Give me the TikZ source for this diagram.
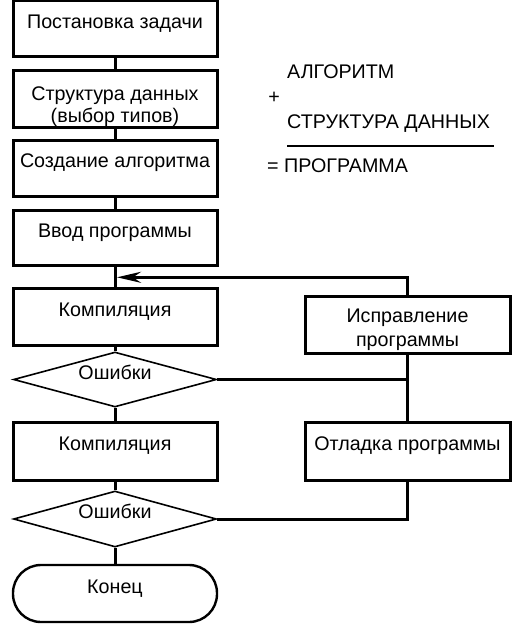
\documentclass[tikz,border=0pt]{standalone}
\usepackage{fontspec}
\setmainfont{Liberation Sans}
\usetikzlibrary{arrows.meta,shapes.geometric}
\tikzset{
        flownode/.style = {align=center, inner sep=0pt, text centered,
            font=\fontsize{19.7}{22.5}\selectfont},
        flow_box/.style = {flownode, rectangle, draw=black, line width=3pt,
            minimum width=204pt, minimum height=56pt},
        flow_one/.style = {flow_box, text height=14pt, text depth=15pt},
        flow_dec/.style = {flownode, diamond, aspect=4, draw=black, line width=1.6pt,
            minimum width=203pt, minimum height=55pt, text height=14pt, text depth=15pt},
        flow_end/.style = {flownode, rectangle, rounded corners=28pt, draw=black,
            line width=2.4pt, minimum width=204pt, minimum height=57pt,
            text height=14pt, text depth=15pt},
        flow_txt/.style = {font=\fontsize{19.7}{22.5}\selectfont, inner sep=0pt, anchor=base west},
        flow_line/.style = {line width=3pt}
    }
\begin{document}
\begin{tikzpicture}[x=1pt,y=-1pt,>={Stealth[length=24pt,width=11pt,inset=8pt]}]
    \useasboundingbox (0,0) rectangle (523,624);
    % left column
    \node [flow_one] (task) at (115,28.5) {Постановка задачи};
    \node [flow_box, minimum height=57pt] (data) at (115,98.5)
        {\rule{0pt}{30pt}Структура данных\\(выбор типов)};
    \node [flow_one] (algo) at (115,168) {Создание алгоритма};
    \node [flow_one, minimum height=55pt] (input) at (115,237.5) {Ввод программы};
    \node [flow_one, minimum height=57pt] (comp1) at (115,316.5) {Компиляция};
    \node [flow_dec] (err1) at (115,379.5) {Ошибки};
    \node [flow_one, minimum height=58pt] (comp2) at (115,451) {Компиляция};
    \node [flow_dec, minimum height=56pt] (err2) at (115,519) {Ошибки};
    \node [flow_end] (stop) at (115,593.5) {Конец};
    % right column
    \node [flow_box, minimum width=205pt, minimum height=57pt] (fix) at (407.5,324.5)
        {\rule{0pt}{24pt}Исправление\\[1pt]программы};
    \node [flow_one, minimum width=205pt, minimum height=58pt] (debug) at (407.5,451)
        {Отладка программы};
    % formula
    \node [flow_txt] (alg) at (287,78) {АЛГОРИТМ};
    \node [flow_txt, anchor=base] (plus) at (274,103) {+};
    \node [flow_txt] (str) at (287,128) {СТРУКТУРА ДАННЫХ};
    \node [flow_txt] (prog) at (267,172) {=\ ПРОГРАММА};
    \draw [line width=1.2pt] (287,146) -- (494,146);
    % connectors
    \coordinate (back) at (117,277.3);
    \coordinate (m1) at (err1.east -| fix.south);
    \coordinate (m2) at (err2.east -| debug.south);
    \draw [flow_line] (task) -- (data) -- (algo) -- (input) -- (comp1) -- (err1)
        -- (comp2) -- (err2) -- (stop);
    \draw [flow_line, ->] (fix.north) |- (back);
    \draw [flow_line] (fix.south) -- (debug.north);
    \draw [flow_line] (err1.east) -- (m1);
    \draw [flow_line] (err2.east) -- (m2) -- (debug.south);
\end{tikzpicture}
\end{document}
